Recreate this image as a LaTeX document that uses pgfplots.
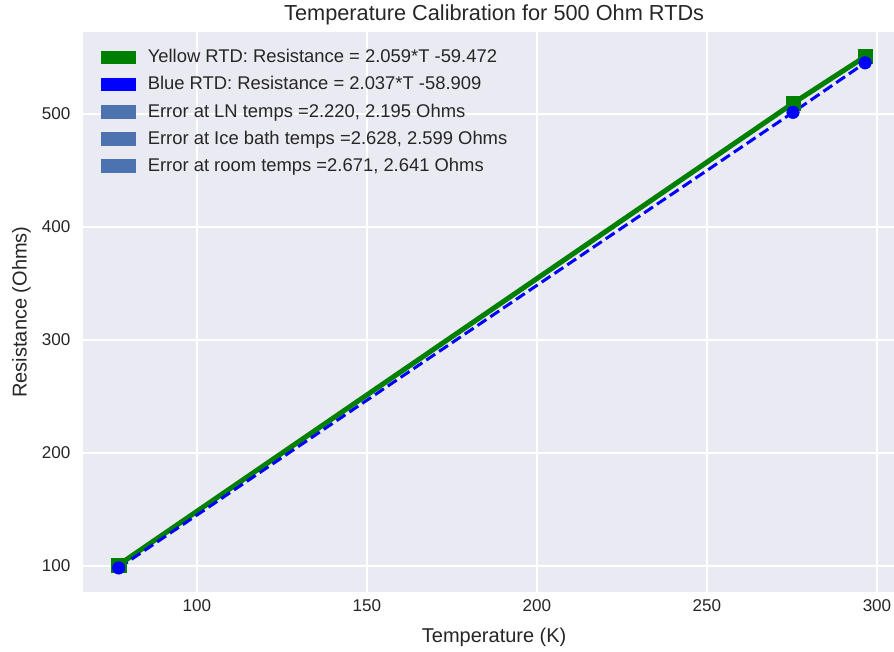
\documentclass[border=0pt]{standalone}
\usepackage{fontspec}
\setmainfont{Liberation Sans}
\usepackage{pgfplots}
\pgfplotsset{compat=1.18}
\definecolor{bgc}{HTML}{EAEAF2}
\definecolor{txt}{HTML}{262626}
\definecolor{mplgreen}{HTML}{008000}
\definecolor{mplblue}{HTML}{0000FF}
\definecolor{sbblue}{HTML}{4C72B0}
\pgfplotsset{
  greenpatch/.style={legend image code/.code={\fill[mplgreen] (0pt,-4.8pt) rectangle (26pt,4.8pt); \path (33pt,0pt);}},
  bluepatch/.style={legend image code/.code={\fill[mplblue] (0pt,-4.8pt) rectangle (26pt,4.8pt); \path (33pt,0pt);}},
  sbpatch/.style={legend image code/.code={\fill[sbblue] (0pt,-4.8pt) rectangle (26pt,4.8pt); \path (33pt,0pt);}},
}
\begin{document}
\begin{tikzpicture}
\begin{axis}[
  at={(0,0)}, anchor=south west,
  scale only axis, width=608.25pt, height=420pt,
  xmin=66.5, xmax=305, ymin=77, ymax=572.6,
  axis background/.style={fill=bgc},
  axis line style={draw=none},
  major tick length=0pt,
  grid=major,
  major grid style={white, line width=1.1pt},
  xtick={100,150,...,300}, ytick={100,200,...,500},
  /pgf/number format/assume math mode=true,
  tick label style={font=\fontsize{12.8}{14}\selectfont, text=txt},
  xticklabel style={yshift=-2pt},
  yticklabel style={xshift=-6pt},
  title={Temperature Calibration for 500 Ohm RTDs},
  title style={font=\fontsize{16.3}{18}\selectfont, text=txt, at={(0.507,1)}, yshift=-4.5pt},
  xlabel={Temperature (K)},
  ylabel={Resistance (Ohms)},
  label style={font=\fontsize{15}{17}\selectfont, text=txt},
  xlabel style={at={(ticklabel cs:0.507)}, anchor=near ticklabel, yshift=-5.5pt},
  ylabel style={yshift=1.5pt},
  legend cell align=left,
  legend style={at={(0,1)}, anchor=north west, xshift=10pt, yshift=-9pt,
    draw=none, fill=none, font=\fontsize{13.8}{15}\selectfont, text=txt,
    row sep=4.8pt, nodes={inner sep=2pt}},
]
\addplot[mplgreen, line width=3.75pt, mark=square*, mark size=5.3pt,
  mark options={solid, line width=0.4pt}, forget plot]
  coordinates {(77,101.0) (275.3,509.5) (296.5,550.8)};
\addplot[mplblue, line width=2.25pt, dash pattern=on 8pt off 3.6pt, mark=*, mark size=4.7pt,
  mark options={solid, line width=0.4pt}, forget plot]
  coordinates {(77,98.3) (275.3,501.5) (296.5,545.3)};
\addlegendimage{greenpatch}
\addlegendentry{Yellow RTD: Resistance = 2.059*T -59.472}
\addlegendimage{bluepatch}
\addlegendentry{Blue RTD: Resistance = 2.037*T -58.909}
\addlegendimage{sbpatch}
\addlegendentry{Error at LN temps =2.220, 2.195 Ohms}
\addlegendimage{sbpatch}
\addlegendentry{Error at Ice bath temps =2.628, 2.599 Ohms}
\addlegendimage{sbpatch}
\addlegendentry{Error at room temps =2.671, 2.641 Ohms}
\end{axis}
\pgfresetboundingbox
\path (-62.25pt,-45pt) rectangle (608.25pt,444pt);
\end{tikzpicture}
\end{document}
